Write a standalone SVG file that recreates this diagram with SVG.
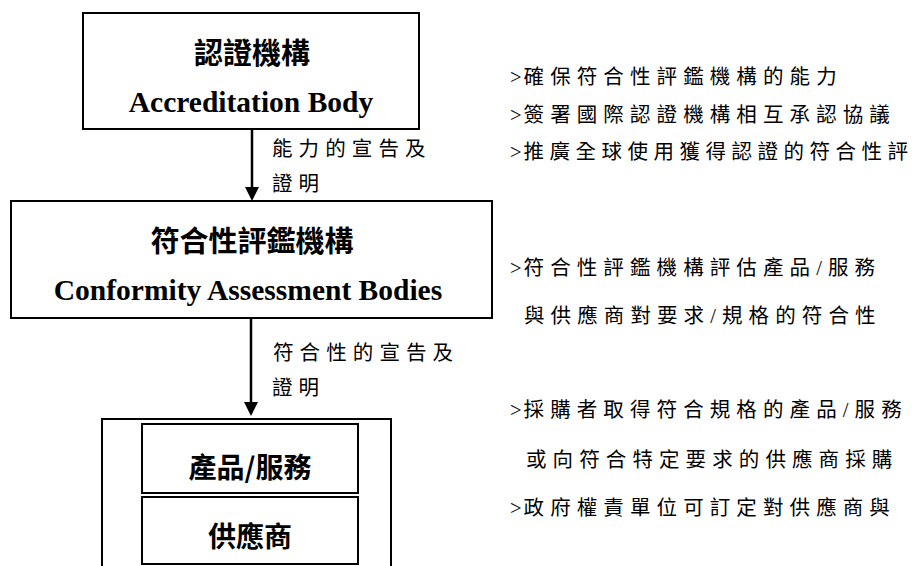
<svg xmlns="http://www.w3.org/2000/svg" width="922" height="566" viewBox="0 0 922 566">
<style>
  .box { fill: #ffffff; stroke: #000000; stroke-width: 2; }
  .conn { stroke: #000000; stroke-width: 2.5; fill: none; }
  .title { font-family: "Noto Sans CJK TC", sans-serif; font-weight: bold; font-size: 29px; text-anchor: middle; fill: #000; }
  .sub { font-size: 28px; }
  .en { font-family: "Liberation Serif", "Times New Roman", serif; font-weight: bold; font-size: 29.5px; text-anchor: middle; fill: #000; }
  .lbl { font-family: "Liberation Serif", "Noto Sans CJK TC", serif; font-size: 20.5px; letter-spacing: 6.1px; fill: #000; }
  .tight { letter-spacing: 5.5px; }
  .gt { letter-spacing: 2px; }
</style>
<defs>
  <marker id="arrow" markerUnits="userSpaceOnUse" markerWidth="14" markerHeight="14" viewBox="0 0 14 14" refX="8" refY="7" orient="auto">
    <path d="M0,0 L14,7 L0,14 z" fill="#000000"/>
  </marker>
</defs>

<g id="connectors">
  <line class="conn" x1="252" y1="129" x2="252" y2="195" marker-end="url(#arrow)"/>
  <line class="conn" x1="251" y1="318" x2="251" y2="410" marker-end="url(#arrow)"/>
  <text class="lbl" x="272" y="156">能力的宣告及</text>
  <text class="lbl" x="272" y="191">證明</text>
  <text class="lbl" x="273" y="360">符合性的宣告及</text>
  <text class="lbl" x="272" y="395">證明</text>
</g>

<g id="accreditation-body">
  <rect class="box" x="83" y="13" width="336" height="116"/>
  <text class="title" x="252" y="64">認證機構</text>
  <text class="en" x="251" y="112">Accreditation Body</text>
</g>

<g id="conformity-assessment-bodies">
  <rect class="box" x="11" y="201" width="481" height="117"/>
  <text class="title" x="252" y="252">符合性評鑑機構</text>
  <text class="en" x="248" y="300">Conformity Assessment Bodies</text>
</g>

<g id="products-suppliers">
  <rect class="box" x="102" y="419" width="289" height="160"/>
  <rect class="box" x="142" y="424" width="216" height="69"/>
  <text class="title sub" x="250" y="478">產品/服務</text>
  <rect class="box" x="142" y="497" width="216" height="67"/>
  <text class="title sub" x="250" y="547">供應商</text>
</g>

<g id="notes">
  <text class="lbl" x="510" y="84"><tspan class="gt">&gt;</tspan>確保符合性評鑑機構的能力</text>
  <text class="lbl" x="510" y="122"><tspan class="gt">&gt;</tspan>簽署國際認證機構相互承認協議</text>
  <text class="lbl tight" x="510" y="159"><tspan class="gt">&gt;</tspan>推廣全球使用獲得認證的符合性評</text>
  <text class="lbl" x="510" y="275"><tspan class="gt">&gt;</tspan>符合性評鑑機構評估產品/服務</text>
  <text class="lbl" x="524" y="323">與供應商對要求/規格的符合性</text>
  <text class="lbl" x="510" y="417"><tspan class="gt">&gt;</tspan>採購者取得符合規格的產品/服務</text>
  <text class="lbl" x="526" y="467">或向符合特定要求的供應商採購</text>
  <text class="lbl" x="510" y="515"><tspan class="gt">&gt;</tspan>政府權責單位可訂定對供應商與</text>
</g>
</svg>
